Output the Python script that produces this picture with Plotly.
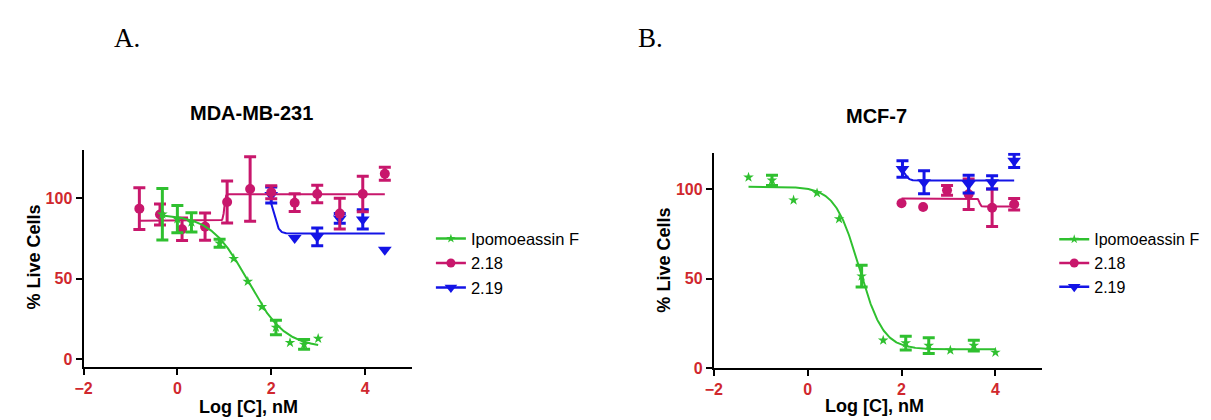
import numpy as np
import plotly.graph_objects as go

# ---------------- data ----------------
# Panel A: MDA-MB-231
a_ipo_x = [-0.32, 0.0, 0.3, 0.9, 1.2, 1.5, 1.8, 2.1, 2.4, 2.7, 3.0]
a_ipo_y = [90.0, 87.0, 85.0, 72.0, 62.4, 48.2, 32.5, 19.7, 10.2, 9.1, 12.8]
a_ipo_sd = [16, 8.5, 6, 2.5, None, None, None, 4.5, None, 3, None]

a_218_x = [-0.81, -0.37, 0.1, 0.59, 1.06, 1.55, 2.0, 2.5, 2.98, 3.46, 3.95, 4.42]
a_218_y = [93.5, 89.8, 80.7, 82.3, 97.6, 105.7, 103.7, 97.2, 102.6, 90.4, 102.6, 115.2]
a_218_sd = [13, 6.5, 7, 8.5, 13, 20, 4, 5.5, 5.5, 9.5, 11, 4]

a_219_x = [2.0, 2.5, 2.98, 3.46, 3.95, 4.42]
a_219_y = [102.0, 75.2, 76.0, 87.4, 86.8, 68.0]
a_219_sd = [5, None, 5.5, 3, 6, None]

# Panel B: MCF-7
b_ipo_x = [-1.26, -0.76, -0.3, 0.2, 0.67, 1.15, 1.61, 2.09, 2.58, 3.04, 3.54, 4.0]
b_ipo_y = [106.8, 105.1, 94.0, 98.0, 83.5, 51.5, 15.6, 14.0, 12.6, 10.0, 12.6, 8.8]
b_ipo_sd = [None, 2.9, None, None, None, 6.1, None, 3.9, 4.4, None, 3.0, None]

b_218_x = [2.0, 2.46, 2.97, 3.43, 3.93, 4.4]
b_218_y = [92.3, 90.2, 99.5, 97.3, 89.8, 91.7]
b_218_sd = [None, None, 2.7, 8.5, 10.5, 3.2]

b_219_x = [2.02, 2.48, 3.43, 3.93, 4.4]
b_219_y = [111.4, 104.0, 103.0, 104.0, 116.0]
b_219_sd = [4.6, 6.4, 5.0, 3.7, 3.7]

# fitted 4-parameter logistic curves (low-x plateau, high-x plateau, log x50, hill)
a_ipo_fit = (90.0, 7.0, 1.5, 1.1)
a_218_fit = (86.0, 102.5, 1.0, 30.0)
a_219_fit = (104.0, 78.0, 2.05, 8.0)
b_ipo_fit = (101.5, 10.5, 1.1, 1.7)
b_218_fit = (95.0, 90.5, 3.66, 30.0)
b_219_fit = (112.0, 105.0, 2.08, 10.0)

series_names = ["Ipomoeassin F", "2.18", "2.19"]
panel_titles = ["MDA-MB-231", "MCF-7"]
panel_letters = ["A.", "B."]
x_ticks = [-2, 0, 2, 4]
y_ticks = [0, 50, 100]
x_title = "Log [C], nM"
y_title = "% Live Cells"

# ---------------- styles ----------------
GREEN = "#2fc02f"
PINK = "#c8176c"
BLUE = "#1414e6"
TICKRED = "#d0282e"
FONT = "Arial, Liberation Sans, sans-serif"
SERIF = "Times New Roman, Liberation Serif, serif"

styles = {
    "Ipomoeassin F": dict(color=GREEN, symbol="star", size=8),
    "2.18": dict(color=PINK, symbol="circle", size=10),
    "2.19": dict(color=BLUE, symbol="triangle-down", size=12),
}


def logistic(x, lo, hi, x50, hill):
    return hi + (lo - hi) / (1.0 + 10.0 ** ((x - x50) * hill))


fig = go.Figure()


def add_series(name, xs, ys, sds, fit, xref, yref):
    st = styles[name]
    xs = np.array(xs, dtype=float)
    ys = np.array(ys, dtype=float)
    sd = np.array([np.nan if v is None else v for v in sds], dtype=float)
    has = ~np.isnan(sd)
    # fitted curve
    cx = np.linspace(xs.min(), xs.max(), 400)
    fig.add_trace(go.Scatter(x=cx, y=logistic(cx, *fit), mode="lines",
                             line=dict(color=st["color"], width=2),
                             xaxis=xref, yaxis=yref, showlegend=False,
                             hoverinfo="skip"))
    marker = dict(color=st["color"], symbol=st["symbol"], size=st["size"],
                  line=dict(width=0))
    # points with error bars
    fig.add_trace(go.Scatter(x=xs[has], y=ys[has], mode="markers", marker=marker,
                             error_y=dict(type="data", array=sd[has], visible=True,
                                          color=st["color"], thickness=3, width=6),
                             xaxis=xref, yaxis=yref, showlegend=False))
    # points without error bars
    fig.add_trace(go.Scatter(x=xs[~has], y=ys[~has], mode="markers", marker=marker,
                             xaxis=xref, yaxis=yref, showlegend=False))


def add_legend_entries(xref, yref, legend):
    for name in series_names:
        st = styles[name]
        fig.add_trace(go.Scatter(x=[None], y=[None], mode="lines+markers", name=name,
                                 line=dict(color=st["color"], width=2.5),
                                 marker=dict(color=st["color"], symbol=st["symbol"],
                                             size=st["size"] - 1),
                                 xaxis=xref, yaxis=yref, legend=legend,
                                 showlegend=True))


# panel A
add_series("2.19", a_219_x, a_219_y, a_219_sd, a_219_fit, "x", "y")
add_series("2.18", a_218_x, a_218_y, a_218_sd, a_218_fit, "x", "y")
add_series("Ipomoeassin F", a_ipo_x, a_ipo_y, a_ipo_sd, a_ipo_fit, "x", "y")
add_legend_entries("x", "y", "legend")
# panel B
add_series("2.18", b_218_x, b_218_y, b_218_sd, b_218_fit, "x2", "y2")
add_series("2.19", b_219_x, b_219_y, b_219_sd, b_219_fit, "x2", "y2")
add_series("Ipomoeassin F", b_ipo_x, b_ipo_y, b_ipo_sd, b_ipo_fit, "x2", "y2")
add_legend_entries("x2", "y2", "legend2")

W, H = 1211, 420


def px_x(p):
    return p / W


def px_y(p):
    return (H - p) / H


axis_common = dict(showline=True, linecolor="black", linewidth=2, showgrid=False,
                   zeroline=False, ticks="outside", ticklen=6, tickwidth=2,
                   tickcolor="black",
                   tickfont=dict(family=FONT, size=16, color=TICKRED, weight="bold"))

fig.update_layout(
    width=W, height=H, margin=dict(l=0, r=0, t=0, b=0),
    paper_bgcolor="white", plot_bgcolor="white",
    xaxis=dict(domain=[px_x(67), px_x(398)], range=[-2, 5], tickvals=x_ticks,
               anchor="y", **axis_common),
    yaxis=dict(domain=[px_y(367), px_y(145)], range=[-5, 130], tickvals=y_ticks,
               anchor="x", **axis_common),
    xaxis2=dict(domain=[px_x(702), px_x(1033)], range=[-2, 5], tickvals=x_ticks,
                anchor="y2", **axis_common),
    yaxis2=dict(domain=[px_y(368), px_y(148)], range=[0, 120.5], tickvals=y_ticks,
                anchor="x2", **axis_common),
    legend=dict(x=px_x(417), y=px_y(218), xanchor="left", yanchor="top",
                font=dict(family=FONT, size=16.5, color="black"),
                bgcolor="rgba(0,0,0,0)", itemwidth=30),
    legend2=dict(x=px_x(1045), y=px_y(219), xanchor="left", yanchor="top",
                 font=dict(family=FONT, size=16, color="black"),
                 bgcolor="rgba(0,0,0,0)", itemwidth=30),
    showlegend=True,
)

annotations = [
    dict(text=panel_letters[0], x=px_x(111), y=px_y(31)),
    dict(text=panel_letters[1], x=px_x(638), y=px_y(31)),
]
for a in annotations:
    a.update(xref="paper", yref="paper", showarrow=False, xanchor="center",
             yanchor="middle", font=dict(family=SERIF, size=27, color="black"))

bold = dict(family=FONT, size=18, color="black", weight="bold")
more = [
    dict(text=panel_titles[0], x=px_x(236), y=px_y(107), font=dict(bold, size=20)),
    dict(text=panel_titles[1], x=px_x(866), y=px_y(110), font=dict(bold, size=20)),
    dict(text=x_title, x=px_x(233), y=px_y(408), font=bold),
    dict(text=x_title, x=px_x(864), y=px_y(407), font=bold),
    dict(text=y_title, x=px_x(17), y=px_y(254), font=bold, textangle=-90),
    dict(text=y_title, x=px_x(652), y=px_y(258), font=bold, textangle=-90),
]
for a in more:
    a.update(xref="paper", yref="paper", showarrow=False, xanchor="center",
             yanchor="middle")
fig.update_layout(annotations=annotations + more)

fig.write_html("out.html")
